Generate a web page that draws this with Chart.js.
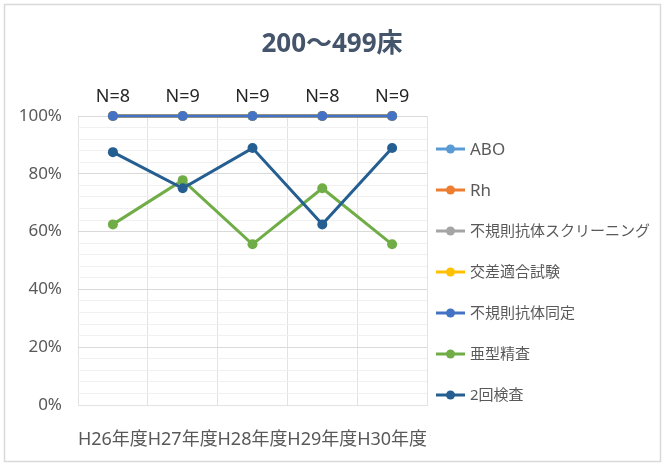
<!DOCTYPE html>
<html>
<head>
<meta charset="utf-8">
<script src="https://cdn.jsdelivr.net/npm/chart.js@4.4.1/dist/chart.umd.min.js"></script>
<style>
  html, body { margin: 0; padding: 0; background: #fff; }
  #wrap { width: 665px; height: 464px; position: relative; }
</style>
</head>
<body>
<div id="wrap"><canvas id="chart" width="665" height="464"></canvas></div>
<script>
// data
const years = ['H26年度', 'H27年度', 'H28年度', 'H29年度', 'H30年度'];
const nLabels = ['N=8', 'N=9', 'N=9', 'N=8', 'N=9'];
const chartTitle = '200～499床';

const abo = [100, 100, 100, 100, 100];
const rh = [100, 100, 100, 100, 100];
const screening = [100, 100, 100, 100, 100];
const crossmatch = [100, 100, 100, 100, 100];
const identification = [100, 100, 100, 100, 100];
const subtype = [62.5, 77.8, 55.6, 75, 55.6];
const retest = [87.5, 75, 88.9, 62.5, 88.9];

const seriesNames = ['ABO', 'Rh', '不規則抗体スクリーニング', '交差適合試験', '不規則抗体同定', '亜型精査', '2回検査'];
const seriesData = [abo, rh, screening, crossmatch, identification, subtype, retest];
const seriesColors = ['#5B9BD5', '#ED7D31', '#A5A5A5', '#FFC000', '#4472C4', '#70AD47', '#255E91'];

const FONT = "'Noto Sans', 'Noto Sans CJK JP', sans-serif";
const TEXT = '#595959';

// frame and title, centred on the whole canvas
const framePlugin = {
    id: 'frame',
    beforeDraw(chart) {
        const ctx = chart.ctx;
        ctx.save();
        ctx.fillStyle = '#fff';
        ctx.fillRect(0, 0, chart.width, chart.height);
        ctx.strokeStyle = '#d9d9d9';
        ctx.lineWidth = 1.5;
        ctx.strokeRect(4.5, 4.5, 656, 457);
        ctx.fillStyle = '#44546A';
        ctx.font = 'bold 26px ' + FONT;
        ctx.textAlign = 'center';
        ctx.textBaseline = 'middle';
        ctx.fillText(chartTitle, 332, 45);
        ctx.restore();
    }
};

// "N=.." above the top series
const nPlugin = {
    id: 'nLabels',
    afterDatasetsDraw(chart) {
        const ctx = chart.ctx;
        const meta = chart.getDatasetMeta(4);
        ctx.save();
        ctx.font = '18px ' + FONT;
        ctx.fillStyle = '#262626';
        ctx.textAlign = 'center';
        ctx.textBaseline = 'middle';
        meta.data.forEach((pt, i) => {
            ctx.fillText(nLabels[i], pt.x, pt.y - 19);
        });
        ctx.restore();
    }
};

// legend with line + marker like the spreadsheet one
const legendPlugin = {
    id: 'sideLegend',
    afterDraw(chart) {
        const ctx = chart.ctx;
        const area = chart.chartArea;
        const x0 = area.right + 9;
        ctx.save();
        ctx.textBaseline = 'middle';
        ctx.textAlign = 'left';
        seriesNames.forEach((name, i) => {
            const y = area.top + 33 + i * 41;
            ctx.strokeStyle = seriesColors[i];
            ctx.lineWidth = 3;
            ctx.beginPath();
            ctx.moveTo(x0, y);
            ctx.lineTo(x0 + 29, y);
            ctx.stroke();
            ctx.fillStyle = seriesColors[i];
            ctx.beginPath();
            ctx.arc(x0 + 14.5, y, 4.5, 0, Math.PI * 2);
            ctx.fill();
            ctx.fillStyle = TEXT;
            ctx.font = (/^[A-Za-z0-9]+$/.test(name) ? '17px ' : '15px ') + FONT;
            ctx.fillText(name, x0 + 34, y + 1);
        });
        ctx.restore();
    }
};

const datasets = seriesNames.map((name, i) => ({
    label: name,
    data: seriesData[i],
    borderColor: seriesColors[i],
    backgroundColor: seriesColors[i],
    borderWidth: 3,
    pointRadius: 5,
    pointBorderWidth: 0,
    pointBackgroundColor: seriesColors[i],
    tension: 0,
    clip: false,
    order: 10 - i
}));

new Chart(document.getElementById('chart'), {
    type: 'line',
    data: { labels: years, datasets: datasets },
    plugins: [framePlugin, nPlugin, legendPlugin],
    options: {
        responsive: false,
        animation: false,
        layout: { padding: { left: 0, right: 238, top: 116, bottom: 0 } },
        plugins: {
            legend: { display: false },
            tooltip: { enabled: false },
            title: { display: false }
        },
        scales: {
            x: {
                offset: true,
                grid: { offset: true, color: '#e3e3e3', drawTicks: false },
                border: { color: '#e3e3e3' },
                afterFit: s => { s.height = 59; },
                ticks: {
                    color: TEXT,
                    font: { family: FONT, size: 18 },
                    padding: 24,
                    maxRotation: 0,
                    autoSkip: false
                }
            },
            y: {
                min: 0,
                max: 100,
                afterFit: s => { s.width = 78; },
                grid: {
                    drawTicks: false,
                    color: c => (c.tick && c.tick.value % 20 === 0) ? '#d9d9d9' : '#f0f0f0'
                },
                border: { display: false },
                ticks: {
                    stepSize: 4,
                    autoSkip: false,
                    color: TEXT,
                    font: { family: FONT, size: 17 },
                    padding: 16,
                    callback: v => (v % 20 === 0 ? v + '%' : '')
                }
            }
        }
    }
});
</script>
</body>
</html>
